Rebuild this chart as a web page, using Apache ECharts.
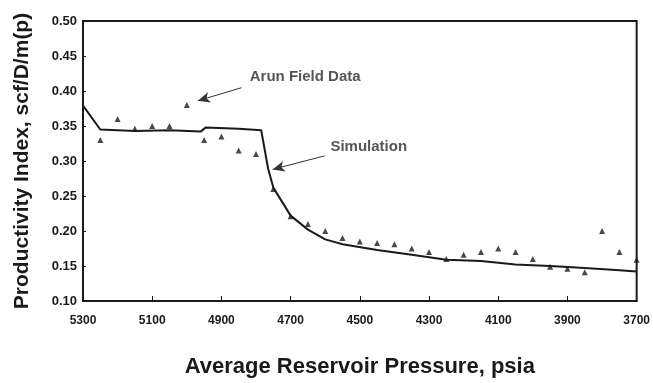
<!DOCTYPE html>
<html>
<head>
<meta charset="utf-8">
<script src="https://cdn.jsdelivr.net/npm/echarts@6/dist/echarts.min.js"></script>
<style>
  html, body { margin: 0; padding: 0; background: #fff; }
  #chart { width: 653px; height: 383px; }
</style>
</head>
<body>
<div id="chart"></div>
<script>
// Arun field measurements: average reservoir pressure (psia) vs productivity index
const fieldPressure = [5250, 5200, 5150, 5100, 5050, 5000, 4950, 4900, 4850, 4800,
  4750, 4700, 4650, 4600, 4550, 4500, 4450, 4400, 4350, 4300,
  4250, 4200, 4150, 4100, 4050, 4000, 3950, 3900, 3850, 3800, 3750, 3700];
const fieldPI = [0.330, 0.360, 0.346, 0.350, 0.350, 0.380, 0.330, 0.335, 0.315, 0.310,
  0.260, 0.221, 0.210, 0.200, 0.190, 0.185, 0.183, 0.181, 0.175, 0.170,
  0.160, 0.166, 0.170, 0.175, 0.170, 0.160, 0.149, 0.146, 0.141, 0.200, 0.170, 0.159];

// Simulated productivity index
const simPressure = [5300, 5250, 5150, 5050, 4960, 4945, 4850, 4785, 4765, 4750,
  4700, 4650, 4600, 4550, 4450, 4350, 4250, 4150, 4050, 3950, 3850, 3750, 3700];
const simPI = [0.379, 0.345, 0.343, 0.344, 0.342, 0.348, 0.346, 0.344, 0.289, 0.262,
  0.222, 0.202, 0.188, 0.181, 0.173, 0.166, 0.159, 0.157, 0.152, 0.150, 0.147, 0.144, 0.142];

// Axis ranges
const xMin = 3700, xMax = 5300, xStep = 200;
const yMin = 0.10, yMax = 0.50, yStep = 0.05;

// Callout labels and their arrows, in data units
const calloutText = ['Arun Field Data', 'Simulation'];
const calloutAt = [[4818, 0.4203], [4585, 0.3206]];
const fieldArrow = [[4842, 0.4047], [4968, 0.3861]];
const simArrow = [[4602, 0.3073], [4752, 0.2880]];

const FONT = '"Liberation Sans", Arial, sans-serif';
const INK = '#1a1a1a';

const chart = echarts.init(document.getElementById('chart'), null, { renderer: 'canvas' });

chart.setOption({
  animation: false,
  backgroundColor: '#fff',
  grid: { left: 83, right: 15, top: 21, bottom: 61, show: true, borderColor: INK, borderWidth: 2 },
  xAxis: {
    type: 'value', min: xMin, max: xMax, interval: xStep, inverse: true,
    name: 'Average Reservoir Pressure, psia', nameLocation: 'middle', nameGap: 55,
    nameTextStyle: { color: INK, fontFamily: FONT, fontSize: 22, fontWeight: 'bold' },
    axisLine: { show: true, lineStyle: { color: INK, width: 2 } },
    axisTick: { show: true, inside: true, length: 5, lineStyle: { color: INK, width: 1 } },
    axisLabel: {
      color: INK, fontFamily: FONT, fontSize: 12, fontWeight: 'bold', margin: 14,
      formatter: (v) => String(v)
    },
    splitLine: { show: false }
  },
  yAxis: {
    type: 'value', min: yMin, max: yMax, interval: yStep,
    name: 'Productivity Index, scf/D/m(p)', nameLocation: 'middle', nameGap: 50, nameRotate: 90,
    nameTextStyle: { color: INK, fontFamily: FONT, fontSize: 21, fontWeight: 'bold' },
    axisLine: { show: true, lineStyle: { color: INK, width: 2 } },
    axisTick: { show: true, inside: true, length: 3, lineStyle: { color: INK, width: 1 } },
    axisLabel: {
      color: INK, fontFamily: FONT, fontSize: 13, fontWeight: 'bold', margin: 6,
      formatter: (v) => v.toFixed(2)
    },
    splitLine: { show: false }
  },
  series: [
    {
      name: 'Simulation', type: 'line',
      data: simPressure.map((p, i) => [p, simPI[i]]),
      symbol: 'none', lineStyle: { color: INK, width: 2 },
      markLine: {
        silent: true, symbol: ['none', 'arrow'], symbolSize: [8, 12],
        lineStyle: { color: '#333', width: 1, type: 'solid' }, label: { show: false },
        data: [
          [{ coord: fieldArrow[0] }, { coord: fieldArrow[1] }],
          [{ coord: simArrow[0] }, { coord: simArrow[1] }]
        ]
      }
    },
    {
      name: 'Arun Field Data', type: 'scatter',
      data: fieldPressure.map((p, i) => [p, fieldPI[i]]),
      symbol: 'triangle', symbolSize: 6,
      itemStyle: { color: INK }
    },
    {
      name: 'callouts', type: 'scatter', silent: true,
      data: calloutAt.map((c, i) => ({ value: c, name: calloutText[i] })),
      symbolSize: 0,
      label: {
        show: true, position: 'right', distance: 0, formatter: '{b}',
        color: '#2a2a2a', fontFamily: FONT, fontSize: 15, fontWeight: 'bold'
      }
    }
  ]
});
</script>
</body>
</html>
